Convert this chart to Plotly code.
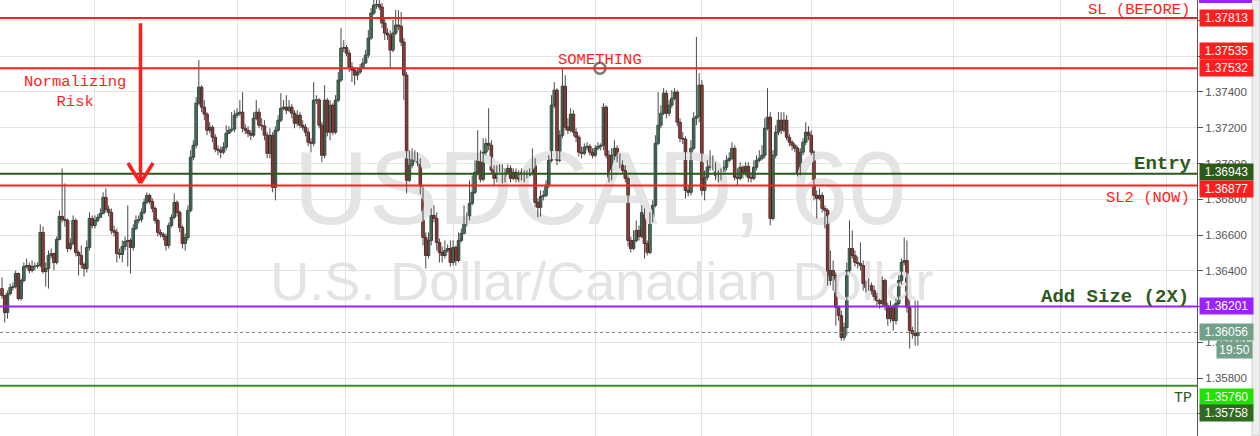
import plotly.graph_objects as go

# USDCAD 60 min bars
FIRST_OPEN = 1.36301
CLOSE = [
    1.36262, 1.36167, 1.36273, 1.36307, 1.36312, 1.36385, 1.36245, 1.36346, 1.36424, 1.36430, 1.36402, 1.36424,
    1.36427, 1.36430, 1.36615, 1.36396, 1.36413, 1.36486, 1.36497, 1.36447, 1.36576, 1.36704, 1.36688, 1.36682,
    1.36525, 1.36553, 1.36682, 1.36503, 1.36486, 1.36436, 1.36413, 1.36531, 1.36693, 1.36654, 1.36682, 1.36699,
    1.36721, 1.36811, 1.36744, 1.36727, 1.36626, 1.36615, 1.36497, 1.36492, 1.36536, 1.36564, 1.36570, 1.36531,
    1.36637, 1.36682, 1.36688, 1.36727, 1.36783, 1.36822, 1.36788, 1.36749, 1.36682, 1.36615, 1.36604, 1.36592,
    1.36542, 1.36654, 1.36699, 1.36783, 1.36727, 1.36643, 1.36553, 1.36587, 1.36738, 1.37035, 1.37102, 1.37337,
    1.37427, 1.37315, 1.37276, 1.37186, 1.37203, 1.37147, 1.37080, 1.37074, 1.37063, 1.37091, 1.37169, 1.37186,
    1.37192, 1.37270, 1.37281, 1.37287, 1.37197, 1.37186, 1.37169, 1.37158, 1.37253, 1.37287, 1.37214, 1.37210,
    1.37158, 1.37057, 1.37158, 1.36867, 1.37186, 1.37242, 1.37309, 1.37315, 1.37298, 1.37315, 1.37281, 1.37225,
    1.37270, 1.37214, 1.37203, 1.37175, 1.37119, 1.37113, 1.37354, 1.37356, 1.37214, 1.37046, 1.37354, 1.37175,
    1.37326, 1.37175, 1.37354, 1.37466, 1.37645, 1.37648, 1.37617, 1.37539, 1.37522, 1.37494, 1.37511, 1.37533,
    1.37561, 1.37606, 1.37701, 1.37841, 1.37886, 1.37889, 1.37875, 1.37785, 1.37729, 1.37718, 1.37634, 1.37729,
    1.37774, 1.37768, 1.37679, 1.37494, 1.36906, 1.36990, 1.37029, 1.37035, 1.37007, 1.36850, 1.36587, 1.36486,
    1.36570, 1.36710, 1.36693, 1.36559, 1.36503, 1.36486, 1.36514, 1.36525, 1.36447, 1.36531, 1.36458, 1.36570,
    1.36609, 1.36671, 1.36693, 1.36777, 1.36839, 1.36951, 1.37024, 1.36912, 1.37063, 1.37113, 1.37102, 1.36962,
    1.36917, 1.36962, 1.36973, 1.36917, 1.36951, 1.36973, 1.36917, 1.36951, 1.36917, 1.36912, 1.36951, 1.36912,
    1.36934, 1.36951, 1.37018, 1.36783, 1.36755, 1.36816, 1.36822, 1.36878, 1.37018, 1.37326, 1.37410, 1.37018,
    1.37158, 1.37432, 1.37203, 1.37186, 1.37276, 1.37175, 1.37147, 1.37063, 1.37057, 1.37091, 1.37096, 1.37063,
    1.37046, 1.37085, 1.37096, 1.37102, 1.37315, 1.37046, 1.36917, 1.37046, 1.37085, 1.37035, 1.36990, 1.36962,
    1.36917, 1.36570, 1.36525, 1.36570, 1.36626, 1.36592, 1.36727, 1.36553, 1.36503, 1.36693, 1.36766, 1.37113,
    1.37214, 1.37281, 1.37393, 1.37281, 1.37326, 1.37365, 1.37399, 1.37231, 1.37141, 1.37136, 1.36850, 1.36839,
    1.37085, 1.37253, 1.37264, 1.37438, 1.36850, 1.36923, 1.36979, 1.37018, 1.36984, 1.36934, 1.36923, 1.36945,
    1.36979, 1.37018, 1.37029, 1.37085, 1.36923, 1.36917, 1.36979, 1.36951, 1.36984, 1.36923, 1.36917, 1.36979,
    1.37018, 1.37029, 1.37046, 1.37197, 1.37259, 1.36693, 1.37046, 1.37175, 1.37242, 1.37186, 1.37242, 1.37147,
    1.37119, 1.37102, 1.37085, 1.36945, 1.37063, 1.37119, 1.37175, 1.37158, 1.37063, 1.36822, 1.36805, 1.36822,
    1.36749, 1.36738, 1.36346, 1.36402, 1.36374, 1.36195, 1.36150, 1.36027, 1.36083, 1.36402, 1.36525, 1.36486,
    1.36447, 1.36441, 1.36430, 1.36329, 1.36307, 1.36318, 1.36290, 1.36256, 1.36234, 1.36217, 1.36346, 1.36206,
    1.36133, 1.36195, 1.36122, 1.36217, 1.36346, 1.36447, 1.36458, 1.36195, 1.36066, 1.36049, 1.36038, 1.36056,
]
HIGH = [
    1.36363, 1.36262, 1.36290, 1.36329, 1.36335, 1.36402, 1.36391, 1.36357, 1.36447, 1.36469, 1.36447, 1.36458,
    1.36447, 1.36447, 1.36660, 1.36648, 1.36447, 1.36514, 1.36525, 1.36486, 1.36592, 1.36738, 1.36973, 1.36889,
    1.36693, 1.36581, 1.36710, 1.36693, 1.36514, 1.36542, 1.36447, 1.36570, 1.36727, 1.36710, 1.36710, 1.36716,
    1.36749, 1.36839, 1.36861, 1.36766, 1.36749, 1.36654, 1.36637, 1.36525, 1.36570, 1.36592, 1.36766, 1.36581,
    1.36660, 1.36710, 1.36710, 1.36749, 1.36805, 1.36839, 1.36833, 1.36805, 1.36760, 1.36693, 1.36632, 1.36615,
    1.36609, 1.36671, 1.36716, 1.36833, 1.36794, 1.36738, 1.36654, 1.36609, 1.36766, 1.37074, 1.37130, 1.37371,
    1.37578, 1.37438, 1.37354, 1.37287, 1.37231, 1.37214, 1.37164, 1.37102, 1.37096, 1.37119, 1.37214, 1.37208,
    1.37287, 1.37298, 1.37309, 1.37354, 1.37399, 1.37220, 1.37208, 1.37186, 1.37287, 1.37354, 1.37309, 1.37253,
    1.37242, 1.37175, 1.37197, 1.37175, 1.37208, 1.37270, 1.37393, 1.37354, 1.37382, 1.37354, 1.37332, 1.37298,
    1.37298, 1.37287, 1.37242, 1.37220, 1.37197, 1.37141, 1.37455, 1.37382, 1.37365, 1.37231, 1.37438, 1.37365,
    1.37354, 1.37337, 1.37382, 1.37511, 1.37757, 1.37690, 1.37662, 1.37634, 1.37567, 1.37533, 1.37533, 1.37556,
    1.37589, 1.37634, 1.37746, 1.37869, 1.37914, 1.37914, 1.37914, 1.37897, 1.37813, 1.37757, 1.37746, 1.37802,
    1.37858, 1.37858, 1.37847, 1.37701, 1.37511, 1.37074, 1.37085, 1.37074, 1.37063, 1.37029, 1.36872, 1.36615,
    1.36615, 1.36749, 1.36766, 1.36727, 1.36581, 1.36536, 1.36570, 1.36548, 1.36570, 1.36570, 1.36542, 1.36615,
    1.36637, 1.36766, 1.36727, 1.36906, 1.36934, 1.37018, 1.37186, 1.37074, 1.37141, 1.37141, 1.37309, 1.37130,
    1.36990, 1.36990, 1.36996, 1.36996, 1.36973, 1.36996, 1.36990, 1.36973, 1.36973, 1.36962, 1.36973, 1.36962,
    1.36962, 1.36973, 1.37085, 1.37029, 1.36805, 1.36850, 1.36850, 1.36906, 1.37046, 1.37382, 1.37455, 1.37421,
    1.37186, 1.37533, 1.37494, 1.37253, 1.37309, 1.37298, 1.37197, 1.37158, 1.37096, 1.37113, 1.37119, 1.37108,
    1.37085, 1.37102, 1.37119, 1.37113, 1.37337, 1.37326, 1.37074, 1.37085, 1.37130, 1.37102, 1.37057, 1.37018,
    1.36990, 1.36934, 1.36592, 1.36626, 1.36682, 1.36654, 1.36766, 1.36749, 1.36570, 1.36727, 1.36794, 1.37158,
    1.37399, 1.37326, 1.37421, 1.37410, 1.37354, 1.37410, 1.37421, 1.37410, 1.37253, 1.37175, 1.37152, 1.36878,
    1.37130, 1.37287, 1.37707, 1.37505, 1.37466, 1.36962, 1.37018, 1.37074, 1.37046, 1.37007, 1.36962, 1.36973,
    1.37018, 1.37046, 1.37063, 1.37119, 1.37102, 1.36973, 1.37007, 1.36990, 1.37007, 1.37007, 1.36951, 1.37018,
    1.37046, 1.37074, 1.37102, 1.37253, 1.37421, 1.37287, 1.37074, 1.37214, 1.37287, 1.37287, 1.37287, 1.37270,
    1.37164, 1.37130, 1.37113, 1.37096, 1.37085, 1.37141, 1.37231, 1.37208, 1.37186, 1.37074, 1.36850, 1.36861,
    1.36839, 1.36766, 1.36749, 1.36514, 1.36458, 1.36391, 1.36206, 1.36178, 1.36111, 1.36447, 1.36682, 1.36626,
    1.36514, 1.36480, 1.36559, 1.36458, 1.36346, 1.36357, 1.36335, 1.36318, 1.36279, 1.36245, 1.36368, 1.36357,
    1.36223, 1.36234, 1.36212, 1.36245, 1.36374, 1.36469, 1.36587, 1.36570, 1.36234, 1.36088, 1.36234, 1.36234,
]
LOW = [
    1.36245, 1.36111, 1.36133, 1.36262, 1.36290, 1.36301, 1.36234, 1.36234, 1.36335, 1.36413, 1.36385, 1.36391,
    1.36402, 1.36413, 1.36419, 1.36385, 1.36312, 1.36301, 1.36469, 1.36402, 1.36436, 1.36570, 1.36671, 1.36648,
    1.36503, 1.36514, 1.36542, 1.36480, 1.36374, 1.36413, 1.36368, 1.36391, 1.36514, 1.36637, 1.36637, 1.36671,
    1.36704, 1.36716, 1.36727, 1.36704, 1.36604, 1.36592, 1.36447, 1.36469, 1.36447, 1.36514, 1.36424, 1.36385,
    1.36514, 1.36626, 1.36665, 1.36671, 1.36716, 1.36772, 1.36772, 1.36727, 1.36665, 1.36592, 1.36587, 1.36570,
    1.36514, 1.36525, 1.36643, 1.36688, 1.36704, 1.36615, 1.36525, 1.36514, 1.36570, 1.36727, 1.37018, 1.37085,
    1.37326, 1.37287, 1.37242, 1.37158, 1.37169, 1.37119, 1.37063, 1.37046, 1.37029, 1.37052, 1.37074, 1.37164,
    1.37175, 1.37175, 1.37253, 1.37264, 1.37175, 1.37164, 1.37147, 1.37130, 1.37147, 1.37242, 1.37197, 1.37186,
    1.37130, 1.37029, 1.37029, 1.36839, 1.36794, 1.37175, 1.37231, 1.37298, 1.37276, 1.37287, 1.37253, 1.37197,
    1.37208, 1.37197, 1.37186, 1.37152, 1.37096, 1.37063, 1.37096, 1.37332, 1.37197, 1.37007, 1.37029, 1.37152,
    1.37130, 1.37158, 1.37164, 1.37343, 1.37455, 1.37623, 1.37600, 1.37511, 1.37455, 1.37438, 1.37466, 1.37500,
    1.37533, 1.37567, 1.37589, 1.37690, 1.37830, 1.37864, 1.37858, 1.37757, 1.37690, 1.37690, 1.37533, 1.37623,
    1.37718, 1.37746, 1.37656, 1.37354, 1.36833, 1.36895, 1.36973, 1.37007, 1.36984, 1.36828, 1.36542, 1.36413,
    1.36469, 1.36542, 1.36671, 1.36514, 1.36447, 1.36447, 1.36469, 1.36503, 1.36424, 1.36430, 1.36430, 1.36447,
    1.36559, 1.36604, 1.36648, 1.36682, 1.36766, 1.36828, 1.36934, 1.36895, 1.36900, 1.37046, 1.37074, 1.36945,
    1.36878, 1.36895, 1.36951, 1.36889, 1.36895, 1.36951, 1.36895, 1.36906, 1.36895, 1.36895, 1.36906, 1.36895,
    1.36917, 1.36928, 1.36934, 1.36755, 1.36699, 1.36704, 1.36794, 1.36811, 1.36861, 1.37007, 1.37309, 1.36990,
    1.37007, 1.37141, 1.37186, 1.37164, 1.37175, 1.37152, 1.37119, 1.37040, 1.37029, 1.37046, 1.37074, 1.37046,
    1.37029, 1.37035, 1.37074, 1.37074, 1.37074, 1.37029, 1.36895, 1.36906, 1.37018, 1.37007, 1.36973, 1.36940,
    1.36895, 1.36536, 1.36503, 1.36514, 1.36559, 1.36570, 1.36581, 1.36469, 1.36486, 1.36492, 1.36671, 1.36755,
    1.37102, 1.37197, 1.37270, 1.37253, 1.37264, 1.37309, 1.37354, 1.37208, 1.37119, 1.37108, 1.36805, 1.36816,
    1.36822, 1.37074, 1.37214, 1.37231, 1.36822, 1.36794, 1.36906, 1.36962, 1.36962, 1.36906, 1.36895, 1.36906,
    1.36951, 1.36962, 1.37007, 1.37018, 1.36906, 1.36878, 1.36906, 1.36917, 1.36928, 1.36895, 1.36895, 1.36906,
    1.36962, 1.37007, 1.37018, 1.37029, 1.37186, 1.36654, 1.36682, 1.37029, 1.37158, 1.37164, 1.37175, 1.37130,
    1.37096, 1.37074, 1.37063, 1.36928, 1.36934, 1.37046, 1.37102, 1.37130, 1.37046, 1.36794, 1.36693, 1.36794,
    1.36727, 1.36637, 1.36318, 1.36318, 1.36290, 1.36094, 1.36122, 1.36010, 1.36010, 1.36038, 1.36391, 1.36469,
    1.36424, 1.36413, 1.36402, 1.36290, 1.36279, 1.36290, 1.36268, 1.36234, 1.36206, 1.36189, 1.36200, 1.36178,
    1.36094, 1.36111, 1.36066, 1.36100, 1.36206, 1.36324, 1.36430, 1.36167, 1.35966, 1.36021, 1.35982, 1.35982,
]
assert len(CLOSE) == len(HIGH) == len(LOW)

# fx bars open where the previous bar closed
OPEN = [FIRST_OPEN] + CLOSE[:-1]
BARS = list(range(len(CLOSE)))

# drawn levels
SL_BEFORE = 1.37813
SOMETHING = 1.37532
ENTRY = 1.36943
SL_NOW = 1.36877
ADD_SIZE = 1.36201
LAST = 1.36056
TP = 1.35758

PRICE_TICKS = [1.356, 1.358, 1.360, 1.362, 1.364, 1.366, 1.368, 1.370, 1.372, 1.374, 1.376, 1.378]
HIDDEN_TICKS = [1.356, 1.362, 1.376, 1.378]  # sit fully under the price tags
DAY_BREAKS = [34, 86, 125.5, 165, 217, 256, 296, 348, 387.3, 426.1]

RED = "#ff1e1e"
DARK_GREEN = "#2d5a1b"
PURPLE = "#9b22ff"
MONO = "Liberation Mono, Courier New, monospace"
SANS = "Liberation Sans, Arial, sans-serif"

fig = go.Figure()

# symbol watermark goes first so the bars sit on top of it
fig.add_trace(go.Scatter(
    x=[218.7, 219.4], y=[1.36807, 1.36310], mode="text",
    text=["USDCAD, 60", "U.S. Dollar/Canadian Dollar"],
    textfont=dict(size=[104, 54], color="#e4e4e4", family=SANS),
    hoverinfo="skip", showlegend=False))

# wicks
wick_x, wick_y = [], []
for i in BARS:
    wick_x += [i, i, None]
    wick_y += [LOW[i], HIGH[i], None]
fig.add_trace(go.Scatter(x=wick_x, y=wick_y, mode="lines",
                         line=dict(color="#4a4a4a", width=1),
                         hoverinfo="skip", showlegend=False))

# bodies
up = [i for i in BARS if CLOSE[i] >= OPEN[i]]
down = [i for i in BARS if CLOSE[i] < OPEN[i]]
for idx, fill, edge in [(up, "#4e9c70", "#1f3b29"), (down, "#d23a30", "#4a1616")]:
    fig.add_trace(go.Bar(
        x=idx, base=[min(OPEN[i], CLOSE[i]) for i in idx],
        y=[max(abs(CLOSE[i] - OPEN[i]), 0.00001) for i in idx],
        width=0.95, marker=dict(color=fill, line=dict(color=edge, width=0.9)),
        hoverinfo="skip", showlegend=False))

# drag handle on the "SOMETHING" line
fig.add_trace(go.Scatter(
    x=[218.7], y=[SOMETHING], mode="markers",
    marker=dict(size=11, color="white", line=dict(color="#777777", width=2.5)),
    hoverinfo="skip", showlegend=False))

shapes = []
for level, color in [(SL_BEFORE, RED), (SOMETHING, RED), (ENTRY, DARK_GREEN),
                     (SL_NOW, RED), (ADD_SIZE, PURPLE), (TP, "#3f8a2a")]:
    shapes.append(dict(type="line", xref="paper", x0=0, x1=1, yref="y", y0=level, y1=level,
                       line=dict(color=color, width=2)))
shapes.append(dict(type="line", xref="paper", x0=0, x1=1, yref="y", y0=LAST, y1=LAST,
                   line=dict(color="#777777", width=1, dash="dot")))

# "Normalizing Risk" arrow: from the old stop down to the new one
arrow_x, arm_dx, arm_dy = 50.66, 4.6, 0.00112
tip = SL_NOW + 0.00014
for x0, y0, x1, y1 in [(arrow_x, 1.37784, arrow_x, tip),
                       (arrow_x - arm_dx, tip + arm_dy, arrow_x, tip),
                       (arrow_x + arm_dx, tip + arm_dy, arrow_x, tip)]:
    shapes.append(dict(type="line", xref="x", yref="y", x0=x0, y0=y0, x1=x1, y1=y1,
                       line=dict(color=RED, width=3.5)))

# right-hand scroll strip and the clipped purple tag at the top
shapes.append(dict(type="rect", xref="paper", yref="paper", x0=1252 / 1197, x1=1260 / 1197,
                   y0=0, y1=1, fillcolor="#ededed", line=dict(color="#cfcfcf", width=1)))
shapes.append(dict(type="rect", xref="paper", yref="paper", x0=1199 / 1197, x1=1252 / 1197,
                   y0=0.993, y1=1.0, fillcolor=PURPLE, line=dict(width=0)))

annotations = []
# price tags on the axis
tags = [
    ("1.37813", RED, SL_BEFORE, 0),
    ("1.37535", RED, 1.37535, 17),
    ("1.37532", RED, SOMETHING, 0),
    ("1.36943", DARK_GREEN, ENTRY, 2),
    ("1.36877", RED, SL_NOW, -3),
    ("1.36201", PURPLE, ADD_SIZE, 0),
    ("1.36056", "#72a088", LAST, 0),
    ("1.35760", "#22e000", 1.35760, -12),
    ("1.35758", "#2f6a1f", TP, -27),
]
for text, color, price, shift in tags:
    annotations.append(dict(xref="paper", x=1, xanchor="left", xshift=2, yref="y", y=price,
                            yshift=shift, text=text, showarrow=False, bgcolor=color,
                            font=dict(color="white", size=12, family=SANS),
                            width=51, height=14, borderpad=1))
annotations.append(dict(xref="paper", x=1, xanchor="left", xshift=19, yref="y", y=LAST,
                        yshift=-18, text="19:50", showarrow=False, bgcolor="#72a088",
                        font=dict(color="white", size=12, family=SANS),
                        width=33, height=14, borderpad=1))

# chart notes
annotations += [
    dict(xref="paper", x=1192 / 1197, xanchor="right", yref="y", y=SL_BEFORE, yanchor="bottom",
         yshift=-3, text="SL (BEFORE)", showarrow=False, font=dict(color=RED, size=15.5, family=MONO)),
    dict(xref="x", x=218.7, xanchor="center", yref="y", y=SOMETHING, yanchor="bottom",
         yshift=-3, text="SOMETHING", showarrow=False, font=dict(color=RED, size=15.5, family=MONO)),
    dict(xref="paper", x=75 / 1197, xanchor="center", yref="paper", y=1 - 92 / 436, yanchor="middle",
         text="Normalizing<br>Risk", showarrow=False, align="center",
         font=dict(color=RED, size=15.5, family=MONO)),
    dict(xref="paper", x=1194 / 1197, xanchor="right", yref="y", y=ENTRY, yanchor="bottom",
         yshift=-3, text="<b>Entry</b>", showarrow=False, font=dict(color=DARK_GREEN, size=19, family=MONO)),
    dict(xref="paper", x=1192 / 1197, xanchor="right", yref="y", y=SL_NOW, yanchor="top",
         yshift=-1, text="SL2 (NOW)", showarrow=False, font=dict(color=RED, size=15.5, family=MONO)),
    dict(xref="paper", x=1191 / 1197, xanchor="right", yref="y", y=ADD_SIZE, yanchor="bottom",
         yshift=-4, text="<b>Add Size (2X)</b>", showarrow=False,
         font=dict(color=DARK_GREEN, size=19, family=MONO)),
    dict(xref="paper", x=1194 / 1197, xanchor="right", yref="y", y=TP, yanchor="top",
         yshift=-2, text="TP", showarrow=False, font=dict(color=DARK_GREEN, size=15, family=MONO)),
]

fig.update_layout(
    width=1260, height=436,
    margin=dict(l=0, r=63, t=0, b=0),
    paper_bgcolor="white", plot_bgcolor="white",
    showlegend=False, barmode="overlay",
    shapes=shapes, annotations=annotations,
    xaxis=dict(range=[-0.73, 437.1], tickvals=DAY_BREAKS, showticklabels=False,
               showgrid=True, gridcolor="#e4e4e4", zeroline=False, fixedrange=True),
    yaxis=dict(side="right", range=[1.35477, 1.37914], tickvals=PRICE_TICKS,
               ticktext=["" if v in HIDDEN_TICKS else f"{v:.5f}" for v in PRICE_TICKS],
               tickfont=dict(size=11.5, color="#555555", family=SANS),
               ticks="outside", ticklen=5, tickcolor="#555555",
               showline=True, linecolor="#555555", linewidth=1,
               showgrid=True, gridcolor="#e4e4e4", zeroline=False, fixedrange=True),
)

fig.write_html("out.html", config={"displayModeBar": False},
               post_script="document.body.style.margin='0';document.body.style.overflow='hidden';")
